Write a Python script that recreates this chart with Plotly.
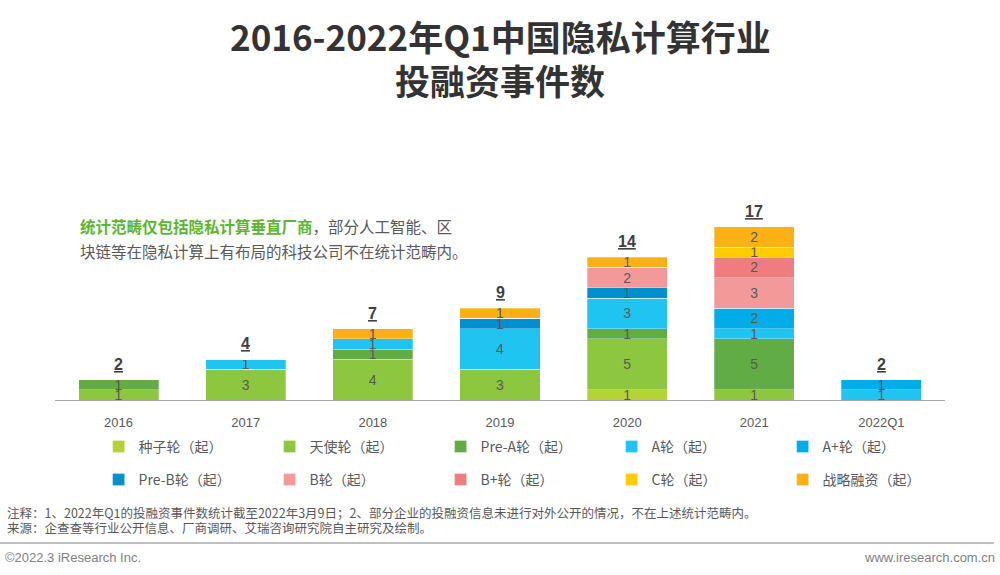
import plotly.graph_objects as go

categories = ["2016", "2017", "2018", "2019", "2020", "2021", "2022Q1"]
series_names = ["种子轮（起）", "天使轮（起）", "Pre-A轮（起）", "A轮（起）", "A+轮（起）",
                "Pre-B轮（起）", "B轮（起）", "B+轮（起）", "C轮（起）", "战略融资（起）"]
seed = [0, 0, 0, 0, 1, 0, 0]
angel = [1, 3, 4, 3, 5, 1, 0]
pre_a = [1, 0, 1, 0, 1, 5, 0]
round_a = [0, 1, 1, 4, 3, 1, 1]
round_a_plus = [0, 0, 0, 0, 0, 2, 1]
pre_b = [0, 0, 0, 1, 1, 0, 0]
round_b = [0, 0, 0, 0, 2, 3, 0]
round_b_plus = [0, 0, 0, 0, 0, 2, 0]
round_c = [0, 0, 0, 0, 0, 1, 0]
strategic = [0, 0, 1, 1, 1, 2, 0]
series_values = [seed, angel, pre_a, round_a, round_a_plus, pre_b, round_b, round_b_plus, round_c, strategic]
colors = ["#B5D334", "#8DC63F", "#62AC45", "#1FC5F0", "#00ADE8",
          "#0090CD", "#F4999A", "#F07C80", "#FFCC00", "#FBB016"]

CJK = "Noto Sans CJK SC, sans-serif"
LAT = "Arial, Liberation Sans, sans-serif"

fig = go.Figure()
for i, (name, vals, col) in enumerate(zip(series_names, series_values, colors)):
    fig.add_trace(go.Bar(
        x=categories, y=vals, name=name,
        legend="legend" if i < 5 else "legend2",
        marker=dict(color=col, line=dict(color="rgba(255,255,255,0.6)", width=0.5)),
        text=[str(v) if v else "" for v in vals],
        textposition="inside", insidetextanchor="middle", textangle=0,
        textfont=dict(size=14, color="#595959", family=LAT),
        constraintext="none", cliponaxis=False,
    ))

totals = [sum(s[i] for s in series_values) for i in range(len(categories))]
for idx, t in enumerate(totals):
    fig.add_annotation(x=idx, y=t, text=f"<b>{t}</b>", showarrow=False, yanchor="bottom", yshift=5,
                       font=dict(size=16, color="#404040", family=LAT, lineposition="under"))

legend_common = dict(orientation="h", xanchor="left", yanchor="middle",
                     traceorder="normal", entrywidth=126, entrywidthmode="pixels",
                     font=dict(size=14, color="#595959", family=CJK), itemwidth=30)

fig.update_layout(
    barmode="stack", bargap=0.37,
    width=1000, height=575,
    margin=dict(l=55, r=55, t=196, b=175),
    paper_bgcolor="white", plot_bgcolor="white",
    xaxis=dict(type="category", range=[-0.5, len(categories) - 0.5],
               showline=True, linecolor="#A6A6A6", linewidth=1, ticks="", showgrid=False,
               ticklabelstandoff=10,
               tickfont=dict(size=13, color="#595959", family=LAT)),
    yaxis=dict(range=[0, 20], visible=False, showgrid=False),
    legend=dict(x=0.049, y=-0.230, **legend_common),
    legend2=dict(x=0.049, y=-0.392, **legend_common),
    showlegend=True,
)

def py(px):
    return (400 - px) / 204

# title
fig.add_annotation(xref="paper", yref="paper", x=0.5, y=py(36), xanchor="center", yanchor="middle",
                   showarrow=False, text="<b>2016-2022年Q1中国隐私计算行业</b>",
                   font=dict(size=35, color="#333333", family=CJK))
fig.add_annotation(xref="paper", yref="paper", x=0.5, y=py(79), xanchor="center", yanchor="middle",
                   showarrow=False, text="<b>投融资事件数</b>",
                   font=dict(size=35, color="#333333", family=CJK))

fig.add_annotation(xref="paper", yref="paper", x=0.026, y=py(226), xanchor="left", yanchor="middle",
                   align="left", showarrow=False,
                   text="<span style='color:#5DB531'><b>统计范畴仅包括隐私计算垂直厂商</b></span>，部分人工智能、区",
                   font=dict(size=15.5, color="#595959", family=CJK))
fig.add_annotation(xref="paper", yref="paper", x=0.026, y=py(251), xanchor="left", yanchor="middle",
                   align="left", showarrow=False,
                   text="块链等在隐私计算上有布局的科技公司不在统计范畴内。",
                   font=dict(size=15.5, color="#595959", family=CJK))

fig.add_annotation(xref="paper", yref="paper", x=-0.056, y=py(512), xanchor="left", yanchor="middle",
                   align="left", showarrow=False,
                   text="注释：1、2022年Q1的投融资事件数统计截至2022年3月9日；2、部分企业的投融资信息未进行对外公开的情况，不在上述统计范畴内。",
                   font=dict(size=12.5, color="#595959", family=CJK))
fig.add_annotation(xref="paper", yref="paper", x=-0.056, y=py(527), xanchor="left", yanchor="middle",
                   align="left", showarrow=False,
                   text="来源：企查查等行业公开信息、厂商调研、艾瑞咨询研究院自主研究及绘制。",
                   font=dict(size=12.5, color="#595959", family=CJK))
fig.add_shape(type="line", xref="paper", yref="paper", x0=-0.062, x1=1.055,
              y0=py(543), y1=py(543), line=dict(color="#BFBFBF", width=2))
fig.add_annotation(xref="paper", yref="paper", x=-0.058, y=py(557), xanchor="left", yanchor="middle",
                   showarrow=False, text="©2022.3 iResearch Inc.",
                   font=dict(size=13, color="#7F7F7F", family=LAT))
fig.add_annotation(xref="paper", yref="paper", x=1.058, y=py(557), xanchor="right", yanchor="middle",
                   showarrow=False, text="www.iresearch.com.cn",
                   font=dict(size=13, color="#7F7F7F", family=LAT))

fig.write_html("out.html", config={"displayModeBar": False},
               post_script="document.body.style.margin='0';document.body.style.overflow='hidden';")
